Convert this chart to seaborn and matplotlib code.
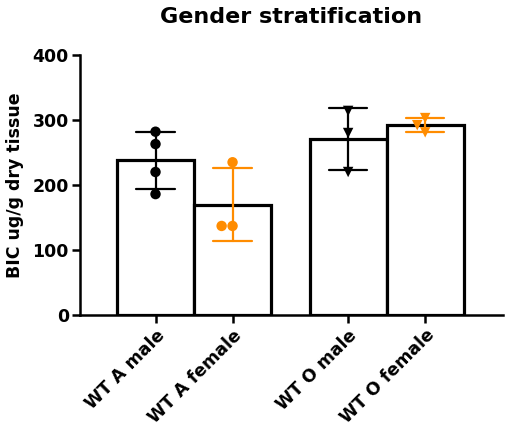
import numpy as np
import pandas as pd
import matplotlib
matplotlib.use("Agg")
import matplotlib.pyplot as plt
import seaborn as sns

# ---- data ----
groups = ["WT A male", "WT A female", "WT O male", "WT O female"]
positions = [0, 1, 2.5, 3.5]
sexes = ["male", "female", "male", "female"]
genotypes = ["A", "A", "O", "O"]
wt_a_male = [282, 263, 220, 186]
wt_a_female = [235, 137, 137]
wt_o_male = [314, 280, 220]
wt_o_female = [303, 292, 281]
values = [wt_a_male, wt_a_female, wt_o_male, wt_o_female]

rows = []
for g, p, s, gt, vals in zip(groups, positions, sexes, genotypes, values):
    for v in vals:
        rows.append({"group": g, "pos": p, "sex": s, "genotype": gt, "value": v})
df = pd.DataFrame(rows)

pal = {"male": "black", "female": "#FF8C00"}

sns.set_theme(style="ticks")
plt.rcParams["font.family"] = ["DejaVu Sans"]
plt.rcParams["font.weight"] = "bold"
plt.rcParams["axes.labelweight"] = "bold"
plt.rcParams["text.color"] = "black"
plt.rcParams["axes.labelcolor"] = "black"
plt.rcParams["xtick.color"] = "black"
plt.rcParams["ytick.color"] = "black"
plt.rcParams["axes.edgecolor"] = "black"

fig = plt.figure(figsize=(5.05, 4.26), dpi=100)
ax = fig.add_axes([80 / 505, 111 / 426, 423 / 505, 260 / 426])

sns.barplot(data=df, x="pos", y="value", hue="sex", palette=pal,
            native_scale=True, dodge=False, width=1.0, fill=False,
            errorbar="sd", capsize=0.5, err_kws={"linewidth": 1.6},
            legend=False, ax=ax)
for p in ax.patches:
    p.set_fill(True)
    p.set_facecolor("white")
    p.set_edgecolor("black")
    p.set_linewidth(2.3)

markers = {"A": "o", "O": "v"}
for gt, mk in markers.items():
    sub = df[df["genotype"] == gt]
    sns.swarmplot(data=sub, x="pos", y="value", hue="sex", palette=pal,
                  native_scale=True, dodge=False, marker=mk, size=7.5,
                  legend=False, zorder=4, ax=ax)

ax.set_xlim(-0.98, 4.51)
ax.set_ylim(0, 400)
ax.set_yticks([0, 100, 200, 300, 400])
ax.set_xticks(positions)
ax.set_xticklabels(groups, rotation=45, ha="right", rotation_mode="anchor",
                   fontsize=12.5, fontweight="bold", color="black")
for t in ax.get_yticklabels():
    t.set_fontsize(12.5)
    t.set_fontweight("bold")
    t.set_color("black")
ax.set_xlabel("")
ax.set_ylabel("BIC ug/g dry tissue", fontsize=12.5, fontweight="bold",
              labelpad=6, color="black")
ax.set_title("Gender stratification", fontsize=16, fontweight="bold",
             pad=23, color="black")

sns.despine(ax=ax)
for s in ["left", "bottom"]:
    ax.spines[s].set_linewidth(1.8)
    ax.spines[s].set_color("black")
ax.tick_params(axis="both", length=6, width=1.8, pad=2, colors="black")

fig.savefig("out.png", dpi=100)
